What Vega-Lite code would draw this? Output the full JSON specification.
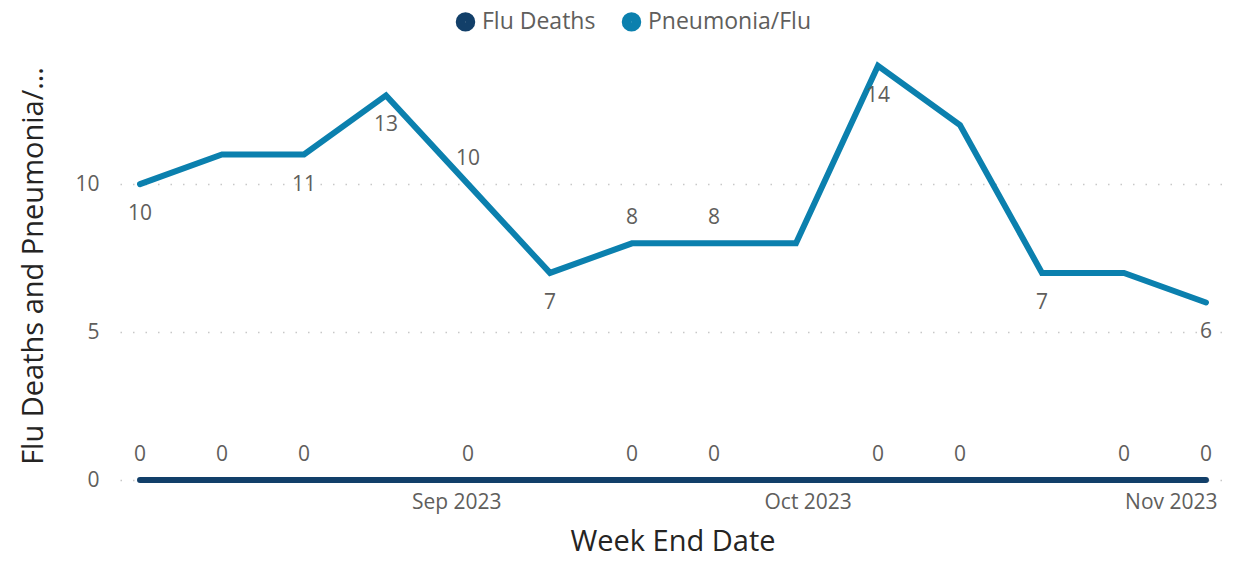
{
  "$schema": "https://vega.github.io/schema/vega-lite/v6.json",
  "width": 1105,
  "height": 429,
  "autosize": {"type": "none"},
  "padding": {"left": 120, "top": 51, "right": 30, "bottom": 81},
  "background": "white",
  "config": {
    "view": {"stroke": null},
    "font": "Open Sans"
  },
  "data": {
    "values": [
      {"date": "2023-08-05", "series": "Flu Deaths", "value": 0},
      {"date": "2023-08-12", "series": "Flu Deaths", "value": 0},
      {"date": "2023-08-19", "series": "Flu Deaths", "value": 0},
      {"date": "2023-08-26", "series": "Flu Deaths", "value": 0},
      {"date": "2023-09-02", "series": "Flu Deaths", "value": 0},
      {"date": "2023-09-09", "series": "Flu Deaths", "value": 0},
      {"date": "2023-09-16", "series": "Flu Deaths", "value": 0},
      {"date": "2023-09-23", "series": "Flu Deaths", "value": 0},
      {"date": "2023-09-30", "series": "Flu Deaths", "value": 0},
      {"date": "2023-10-07", "series": "Flu Deaths", "value": 0},
      {"date": "2023-10-14", "series": "Flu Deaths", "value": 0},
      {"date": "2023-10-21", "series": "Flu Deaths", "value": 0},
      {"date": "2023-10-28", "series": "Flu Deaths", "value": 0},
      {"date": "2023-11-04", "series": "Flu Deaths", "value": 0},
      {"date": "2023-08-05", "series": "Pneumonia/Flu", "value": 10},
      {"date": "2023-08-12", "series": "Pneumonia/Flu", "value": 11},
      {"date": "2023-08-19", "series": "Pneumonia/Flu", "value": 11},
      {"date": "2023-08-26", "series": "Pneumonia/Flu", "value": 13},
      {"date": "2023-09-02", "series": "Pneumonia/Flu", "value": 10},
      {"date": "2023-09-09", "series": "Pneumonia/Flu", "value": 7},
      {"date": "2023-09-16", "series": "Pneumonia/Flu", "value": 8},
      {"date": "2023-09-23", "series": "Pneumonia/Flu", "value": 8},
      {"date": "2023-09-30", "series": "Pneumonia/Flu", "value": 8},
      {"date": "2023-10-07", "series": "Pneumonia/Flu", "value": 14},
      {"date": "2023-10-14", "series": "Pneumonia/Flu", "value": 12},
      {"date": "2023-10-21", "series": "Pneumonia/Flu", "value": 7},
      {"date": "2023-10-28", "series": "Pneumonia/Flu", "value": 7},
      {"date": "2023-11-04", "series": "Pneumonia/Flu", "value": 6}
    ]
  },
  "encoding": {
    "x": {
      "field": "date",
      "type": "temporal",
      "title": "Week End Date",
      "scale": {
        "type": "utc",
        "domain": [
          {"year": 2023, "month": 8, "date": 3, "hours": 7, "utc": true},
          {"year": 2023, "month": 11, "date": 5, "hours": 15, "utc": true}
        ]
      },
      "axis": {
        "values": [
          {"year": 2023, "month": 9, "date": 1, "utc": true},
          {"year": 2023, "month": 10, "date": 1, "utc": true},
          {"year": 2023, "month": 11, "date": 1, "utc": true}
        ],
        "labelExpr": "utcFormat(datum.value, '%b %Y')",
        "grid": false,
        "domain": false,
        "ticks": false,
        "labelFontSize": 21,
        "labelColor": "#605E5C",
        "labelPadding": 11,
        "titleFontSize": 29,
        "titleFontWeight": "normal",
        "titleColor": "#252423",
        "titlePadding": 15
      }
    },
    "y": {
      "field": "value",
      "type": "quantitative",
      "title": "Flu Deaths and Pneumonia/Flu Deaths",
      "scale": {"domain": [0, 14.5], "nice": false},
      "axis": {
        "values": [0, 5, 10],
        "grid": true,
        "gridColor": "#C8C8C8",
        "gridDash": [1.5, 11],
        "gridWidth": 1.5,
        "domain": false,
        "ticks": false,
        "labelFontSize": 21,
        "labelColor": "#605E5C",
        "labelPadding": 21,
        "titleFontSize": 29,
        "titleFontWeight": "normal",
        "titleColor": "#252423",
        "titlePadding": 26,
        "titleLimit": 405
      }
    }
  },
  "layer": [
    {
      "mark": {"type": "line", "strokeWidth": 6, "strokeCap": "round", "strokeJoin": "miter"},
      "encoding": {
        "color": {
          "field": "series",
          "type": "nominal",
          "scale": {"domain": ["Flu Deaths", "Pneumonia/Flu"], "range": ["#123F69", "#0B80AE"]},
          "legend": {
            "title": null,
            "orient": "none",
            "direction": "horizontal",
            "legendX": 334,
            "legendY": -41,
            "symbolType": "circle",
            "symbolSize": 90,
            "symbolStrokeWidth": 10,
            "labelFontSize": 23,
            "labelLimit": 400,
            "labelColor": "#605E5C",
            "columnPadding": 10,
            "labelOffset": 5
          }
        }
      }
    },
    {
      "transform": [
        {"filter": "datum.series == 'Pneumonia/Flu' && indexof(['2023-08-05','2023-08-19','2023-08-26','2023-09-09','2023-10-07','2023-10-21','2023-11-04'], utcFormat(datum.date, '%Y-%m-%d')) >= 0"}
      ],
      "mark": {"type": "text", "dy": 30, "fontSize": 21, "color": "#605E5C"},
      "encoding": {"text": {"field": "value", "type": "quantitative"}}
    },
    {
      "transform": [
        {"filter": "(datum.series == 'Pneumonia/Flu' && indexof(['2023-09-02','2023-09-16','2023-09-23'], utcFormat(datum.date, '%Y-%m-%d')) >= 0) || (datum.series == 'Flu Deaths' && indexof(['2023-08-05','2023-08-12','2023-08-19','2023-09-02','2023-09-16','2023-09-23','2023-10-07','2023-10-14','2023-10-28','2023-11-04'], utcFormat(datum.date, '%Y-%m-%d')) >= 0)"}
      ],
      "mark": {"type": "text", "dy": -25, "fontSize": 21, "color": "#605E5C"},
      "encoding": {"text": {"field": "value", "type": "quantitative"}}
    }
  ]
}
